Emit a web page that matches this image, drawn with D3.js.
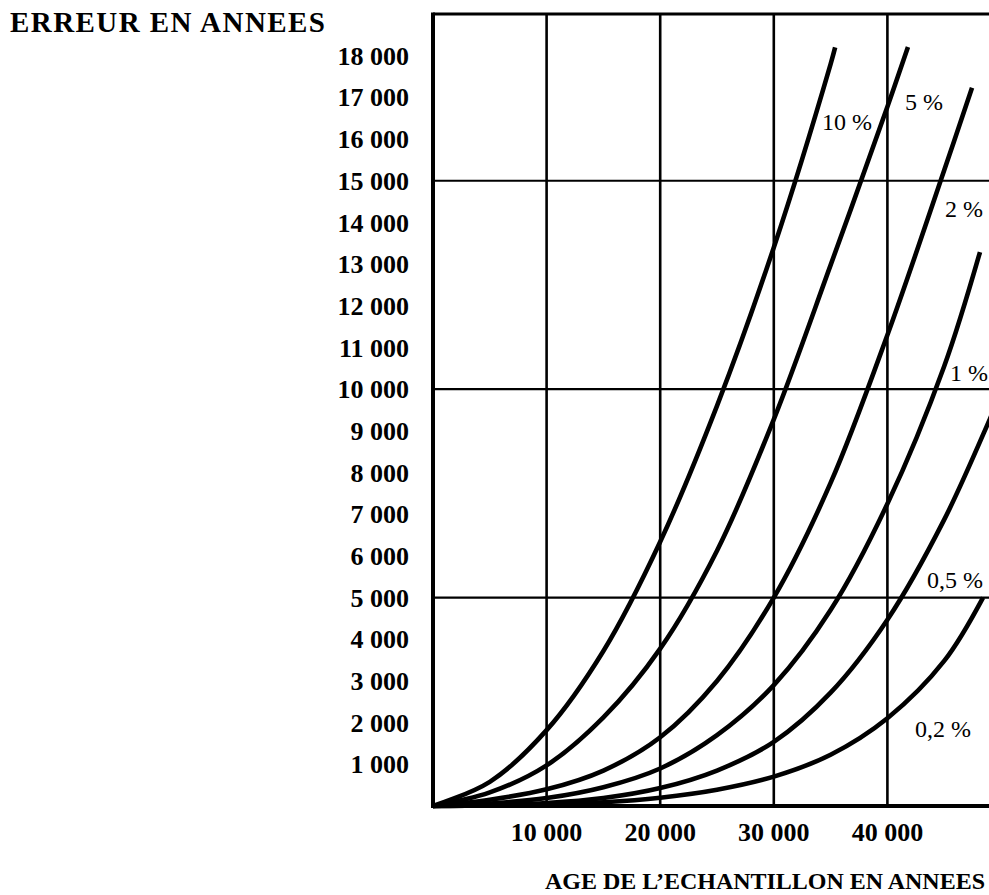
<!DOCTYPE html>
<html>
<head>
<meta charset="utf-8">
<script src="https://cdn.jsdelivr.net/npm/d3@7"></script>
<style>
html,body{margin:0;padding:0;background:#fff;}
svg{display:block;}
</style>
</head>
<body>
<svg id="chart" width="989" height="895"></svg>
<script>
// ---- data ----
const yTickValues = [1000,2000,3000,4000,5000,6000,7000,8000,9000,10000,11000,12000,13000,14000,15000,16000,17000,18000];
const yTickLabels = ["1 000","2 000","3 000","4 000","5 000","6 000","7 000","8 000","9 000","10 000","11 000","12 000","13 000","14 000","15 000","16 000","17 000","18 000"];
const xTickValues = [10000,20000,30000,40000];
const xTickLabels = ["10 000","20 000","30 000","40 000"];
const hGridValues = [5000,10000,15000];

// [age, error] pairs for each precision curve (every 5 000 years, plus the curve's end)
const series10  = [[0,0],[5000,580],[10000,1820],[15000,3720],[20000,6340],[25000,9600],[30000,13400],[35000,17800],[35400,18200]];
const series5   = [[0,0],[5000,325],[10000,975],[15000,2125],[20000,3775],[25000,6125],[30000,9275],[35000,12975],[40000,16775],[41810,18210]];
const series2   = [[0,0],[5000,150],[10000,400],[15000,850],[20000,1650],[25000,3000],[30000,5000],[35000,7750],[40000,11300],[45000,15250],[47450,17230]];
const series1   = [[0,0],[5000,60],[10000,190],[15000,450],[20000,900],[25000,1700],[30000,2900],[35000,4700],[40000,7250],[45000,10550],[48150,13290]];
const series05  = [[0,0],[5000,20],[10000,70],[15000,190],[20000,430],[25000,850],[30000,1540],[35000,2720],[40000,4470],[45000,6870],[49000,9270],[49600,9650]];
const series02  = [[0,0],[5000,10],[10000,35],[15000,90],[20000,200],[25000,390],[30000,705],[35000,1230],[40000,2105],[45000,3480],[48420,5000]];

const seriesNames = ["10 %","5 %","2 %","1 %","0,5 %","0,2 %"];
const labelAnchors = [[822,130],[905,110],[945,217],[950,381],[927,588],[915,737]];

const titleY = "ERREUR EN ANNEES";
const titleX = "AGE DE L\u2019ECHANTILLON EN ANNEES";

// ---- drawing ----
const svg = d3.select("#chart");
svg.append("rect").attr("width",989).attr("height",895).attr("fill","#fff");

const x = d3.scaleLinear().domain([0,50000]).range([433,1001]);
const y = d3.scaleLinear().domain([0,19000]).range([806,14]);

const serif = "'Liberation Serif','DejaVu Serif',serif";

// grid
const g = svg.append("g");
g.selectAll("line.v").data(xTickValues).join("line")
  .attr("x1",d=>x(d)).attr("x2",d=>x(d)).attr("y1",y(19000)).attr("y2",y(0))
  .attr("stroke","#000").attr("stroke-width",2.6);
g.selectAll("line.h").data(hGridValues).join("line")
  .attr("x1",x(0)).attr("x2",989).attr("y1",d=>y(d)).attr("y2",d=>y(d))
  .attr("stroke","#000").attr("stroke-width",2.2);
// frame
g.append("line").attr("x1",x(0)).attr("x2",989).attr("y1",y(19000)).attr("y2",y(19000))
  .attr("stroke","#000").attr("stroke-width",3);
g.append("line").attr("x1",x(0)).attr("x2",x(0)).attr("y1",y(19000)-1.5).attr("y2",y(0)+2)
  .attr("stroke","#000").attr("stroke-width",4);
g.append("line").attr("x1",x(0)-2).attr("x2",989).attr("y1",y(0)).attr("y2",y(0))
  .attr("stroke","#000").attr("stroke-width",4);

// y tick labels
svg.append("g").selectAll("text").data(yTickValues).join("text")
  .attr("x",409).attr("y",d=>y(d)).attr("dy","0.35em")
  .attr("text-anchor","end")
  .attr("font-family",serif).attr("font-size",26).attr("font-weight","bold")
  .text((d,i)=>yTickLabels[i]);

// x tick labels
svg.append("g").selectAll("text").data(xTickValues).join("text")
  .attr("x",d=>x(d)).attr("y",832).attr("dy","0.35em")
  .attr("text-anchor","middle")
  .attr("font-family",serif).attr("font-size",26).attr("font-weight","bold")
  .text((d,i)=>xTickLabels[i]);

// curves
const allSeries = [series10,series5,series2,series1,series05,series02];
const line = d3.line().x(d=>x(d[0])).y(d=>y(d[1])).curve(d3.curveCatmullRom.alpha(0.5));
svg.append("g").selectAll("path").data(allSeries).join("path")
  .attr("d",line).attr("fill","none").attr("stroke","#000")
  .attr("stroke-width",4.6).attr("stroke-linecap","butt");

// series labels
svg.append("g").selectAll("text").data(seriesNames).join("text")
  .attr("x",(d,i)=>labelAnchors[i][0]).attr("y",(d,i)=>labelAnchors[i][1])
  .attr("font-family",serif).attr("font-size",24)
  .text(d=>d);

// titles
svg.append("text").attr("x",10).attr("y",32)
  .attr("font-family",serif).attr("font-size",29).attr("font-weight","bold")
  .attr("textLength",315).attr("lengthAdjust","spacing")
  .text(titleY);
svg.append("text").attr("x",545).attr("y",889)
  .attr("font-family",serif).attr("font-size",24).attr("font-weight","bold")
  .attr("textLength",440).attr("lengthAdjust","spacing")
  .text(titleX);
</script>
</body>
</html>
